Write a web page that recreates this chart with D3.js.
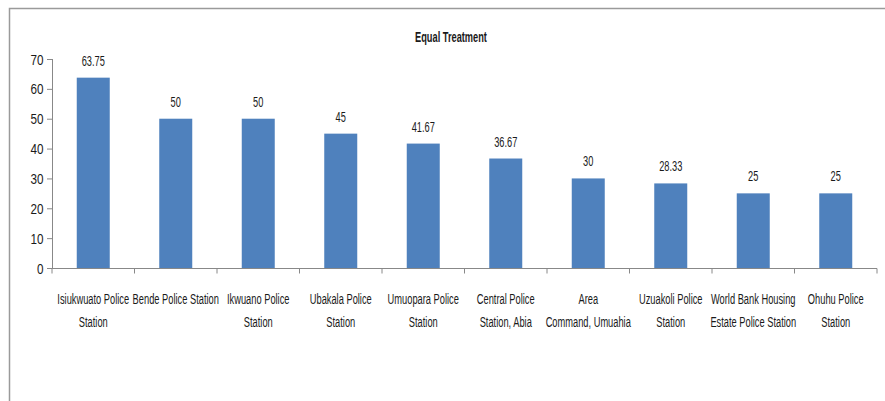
<!DOCTYPE html>
<html><head><meta charset="utf-8">
<script src="https://cdn.jsdelivr.net/npm/d3@7"></script>
<style>body{margin:0;background:#fff}svg{display:block}</style>
</head><body>
<svg id="c" width="885" height="401"></svg>
<script>
const categories = [
  "Isiukwuato Police\nStation",
  "Bende Police Station",
  "Ikwuano Police\nStation",
  "Ubakala Police\nStation",
  "Umuopara Police\nStation",
  "Central Police\nStation, Abia",
  "Area\nCommand, Umuahia",
  "Uzuakoli Police\nStation",
  "World Bank Housing\nEstate Police Station",
  "Ohuhu Police\nStation"
];
const values = [63.75, 50, 50, 45, 41.67, 36.67, 30, 28.33, 25, 25];
const valueLabels = ["63.75", "50", "50", "45", "41.67", "36.67", "30", "28.33", "25", "25"];
const yTicks = [0, 10, 20, 30, 40, 50, 60, 70];
const title = "Equal Treatment";

const svg = d3.select("#c");
const FONT = "'Liberation Sans',Arial,sans-serif";

// chart border
svg.append("path").attr("d","M9.5,401 L9.5,8.5 L885,8.5").attr("fill","none")
  .attr("stroke","#9a9a9a").attr("stroke-width",1.5);

const x = d3.scaleBand().domain(categories).range([52, 877]).paddingInner(0.6).paddingOuter(0.3);
const y = d3.scaleLinear().domain([0, 70]).range([268, 59]);

function sText(g, px, py, txt, size, anchor, sx, weight) {
  return g.append("text").attr("transform", `translate(${px},${py}) scale(${sx},1)`)
    .attr("text-anchor", anchor).attr("font-family", FONT).attr("font-size", size)
    .attr("font-weight", weight || "normal").attr("fill", "#1a1a1a").text(txt);
}

// title
sText(svg, 451, 42, title, 14, "middle", 0.66, "bold");

// y axis
const yAxis = svg.append("g").attr("transform","translate(52,0)")
  .call(d3.axisLeft(y).tickValues(yTicks).tickSize(5).tickFormat(""));
yAxis.select(".domain").attr("stroke","#888").attr("d","M-5,268.5H0.5V59");
yAxis.selectAll(".tick line").attr("stroke","#888");
yTicks.forEach(t => sText(svg, 43.5, y(t) + 5.5, String(t), 15, "end", 0.78));

// x axis
const xAxis = svg.append("g").attr("transform","translate(0,268.5)");
xAxis.append("line").attr("x1",52).attr("x2",877).attr("stroke","#888");
const step = x.step();
const edges = d3.range(categories.length + 1).map(i => x.range()[0] + i * step);
xAxis.selectAll("line.t").data(edges).join("line").attr("class","t")
  .attr("x1", d => d).attr("x2", d => d).attr("y1", 0).attr("y2", 5).attr("stroke","#888");

// bars
svg.selectAll("rect.bar").data(values).join("rect").attr("class","bar")
  .attr("x", (d,i) => x(categories[i])).attr("width", x.bandwidth())
  .attr("y", d => y(d)).attr("height", d => y(0) - y(d)).attr("fill", "#4F81BD");

// value labels
values.forEach((v,i) => sText(svg, x(categories[i]) + x.bandwidth()/2, y(v) - 12, valueLabels[i], 14, "middle", 0.66));

// category labels
categories.forEach(c => {
  const cx = x(c) + x.bandwidth()/2;
  c.split("\n").forEach((line, j) => sText(svg, cx, 303.5 + j * 23, line, 15, "middle", 0.62));
});
</script>
</body></html>
